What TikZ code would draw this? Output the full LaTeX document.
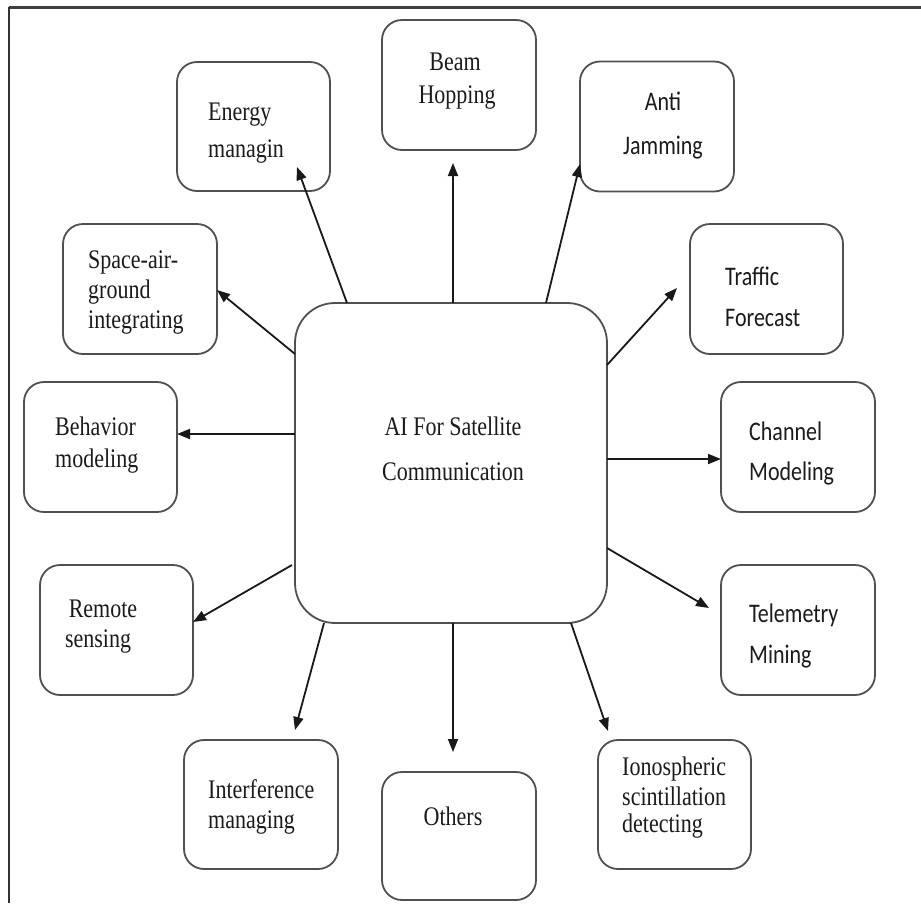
\documentclass[tikz,border=0pt]{standalone}
\usepackage{fontspec}
\setmainfont{Liberation Serif}
\newfontfamily\calib{Carlito}
\usetikzlibrary{arrows.meta}
\definecolor{boxgray}{HTML}{505050}
\definecolor{txt}{HTML}{1a1a1a}
\newcommand{\st}[1]{\scalebox{1}[1.22]{#1}}
\begin{document}
\begin{tikzpicture}[x=1pt,y=-1pt,
  box/.style={draw=boxgray, line width=1.8pt, rounded corners=20pt, inner sep=0pt},
  tl/.style={anchor=base west, inner sep=0pt, text=txt, font=\fontsize{22}{22}\selectfont},
  tc/.style={anchor=base, inner sep=0pt, text=txt, font=\fontsize{22}{22}\selectfont},
  sl/.style={anchor=base west, inner sep=0pt, text=txt, font=\fontsize{22}{22}\calib},
  sc/.style={anchor=base, inner sep=0pt, text=txt, font=\fontsize{22}{22}\calib},
  arr/.style={draw=black!90, line width=1.8pt, -{Triangle[length=13pt,width=10pt]}}]
\useasboundingbox (0,0) rectangle (921,903);
% frame
\draw[black!75, line width=3pt] (9,7) -- (921,7);
\draw[black!80, line width=1.8pt] (9,7) -- (9,903);
% center
\node[box, rounded corners=40pt, minimum width=312pt, minimum height=320pt] (c) at (451,463) {};
\node[tc] (c1) at (453,435) {\st{AI For Satellite}};
\node[tc] (c2) at (453,480) {\st{Communication}};
% boxes
\node[box, minimum width=153pt, minimum height=129pt] (energy) at (253.5,126.5) {};
\node[tl] (energy1) at (208,120) {\st{Energy}};
\node[tl] (energy2) at (208,157) {\st{managin}};
\node[box, minimum width=154pt, minimum height=130pt] (beam) at (459,85) {};
\node[tc] (beam1) at (455,70) {\st{Beam}};
\node[tc] (beam2) at (457,103) {\st{Hopping}};
\node[box, minimum width=154pt, minimum height=130pt] (anti) at (657,126.5) {};
\node[sc] (anti1) at (663,110) {\st{Anti}};
\node[sc] (anti2) at (663,154) {\st{Jamming}};
\node[box, minimum width=153pt, minimum height=130pt] (traffic) at (766.5,289) {};
\node[sl] (traffic1) at (725,285) {\st{Traffic}};
\node[sl] (traffic2) at (725,326) {\st{Forecast}};
\node[box, minimum width=154pt, minimum height=130pt] (channel) at (798,447) {};
\node[sl] (channel1) at (749,440) {\st{Channel}};
\node[sl] (channel2) at (749,480) {\st{Modeling}};
\node[box, minimum width=154pt, minimum height=130pt] (tele) at (798,630) {};
\node[sl] (tele1) at (749,622) {\st{Telemetry}};
\node[sl] (tele2) at (749,663) {\st{Mining}};
\node[box, minimum width=153pt, minimum height=129pt] (iono) at (674.5,804.5) {};
\node[tl] (iono1) at (622,775) {\st{Ionospheric}};
\node[tl] (iono2) at (622,805) {\st{scintillation}};
\node[tl] (iono3) at (622,832) {\st{detecting}};
\node[box, minimum width=154pt, minimum height=128pt] (others) at (459,836) {};
\node[tc] (others1) at (453,825) {\st{Others}};
\node[box, minimum width=154pt, minimum height=129pt] (interf) at (261,804.5) {};
\node[tl] (interf1) at (208,798) {\st{Interference}};
\node[tl] (interf2) at (208,828) {\st{managing}};
\node[box, minimum width=153pt, minimum height=130pt] (remote) at (116.5,630) {};
\node[tc] (remote1) at (103,617) {\st{Remote}};
\node[tc] (remote2) at (98,647) {\st{sensing}};
\node[box, minimum width=153pt, minimum height=130pt] (behav) at (100.5,447) {};
\node[tl] (behav1) at (55,435) {\st{Behavior}};
\node[tl] (behav2) at (55,467) {\st{modeling}};
\node[box, minimum width=154pt, minimum height=130pt] (space) at (140,289) {};
\node[tl] (space1) at (88,268) {\st{Space-air-}};
\node[tl] (space2) at (88,298) {\st{ground}};
\node[tl] (space3) at (88,328) {\st{integrating}};
% arrow ends
\coordinate (sEn) at (347,303); \coordinate (tEn) at (297,167);
\coordinate (sBe) at (453,303); \coordinate (tBe) at (453,163);
\coordinate (sAn) at (546,303); \coordinate (tAn) at (580,164);
\coordinate (sTr) at (607,365); \coordinate (tTr) at (677,288);
\coordinate (sCh) at (607,459); \coordinate (tCh) at (721,459);
\coordinate (sTe) at (607,548); \coordinate (tTe) at (709,608);
\coordinate (sIo) at (571,623); \coordinate (tIo) at (608,731);
\coordinate (sOt) at (453,623); \coordinate (tOt) at (453,752);
\coordinate (sIn) at (324,623); \coordinate (tIn) at (295,730);
\coordinate (sRe) at (292,565); \coordinate (tRe) at (193,622);
\coordinate (sBh) at (295,434); \coordinate (tBh) at (177,434);
\coordinate (sSp) at (295,354); \coordinate (tSp) at (217,290);
\foreach \a in {En,Be,An,Tr,Ch,Te,Io,Ot,In,Re,Bh,Sp}
  \draw[arr] (s\a) -- (t\a);
\end{tikzpicture}
\end{document}
